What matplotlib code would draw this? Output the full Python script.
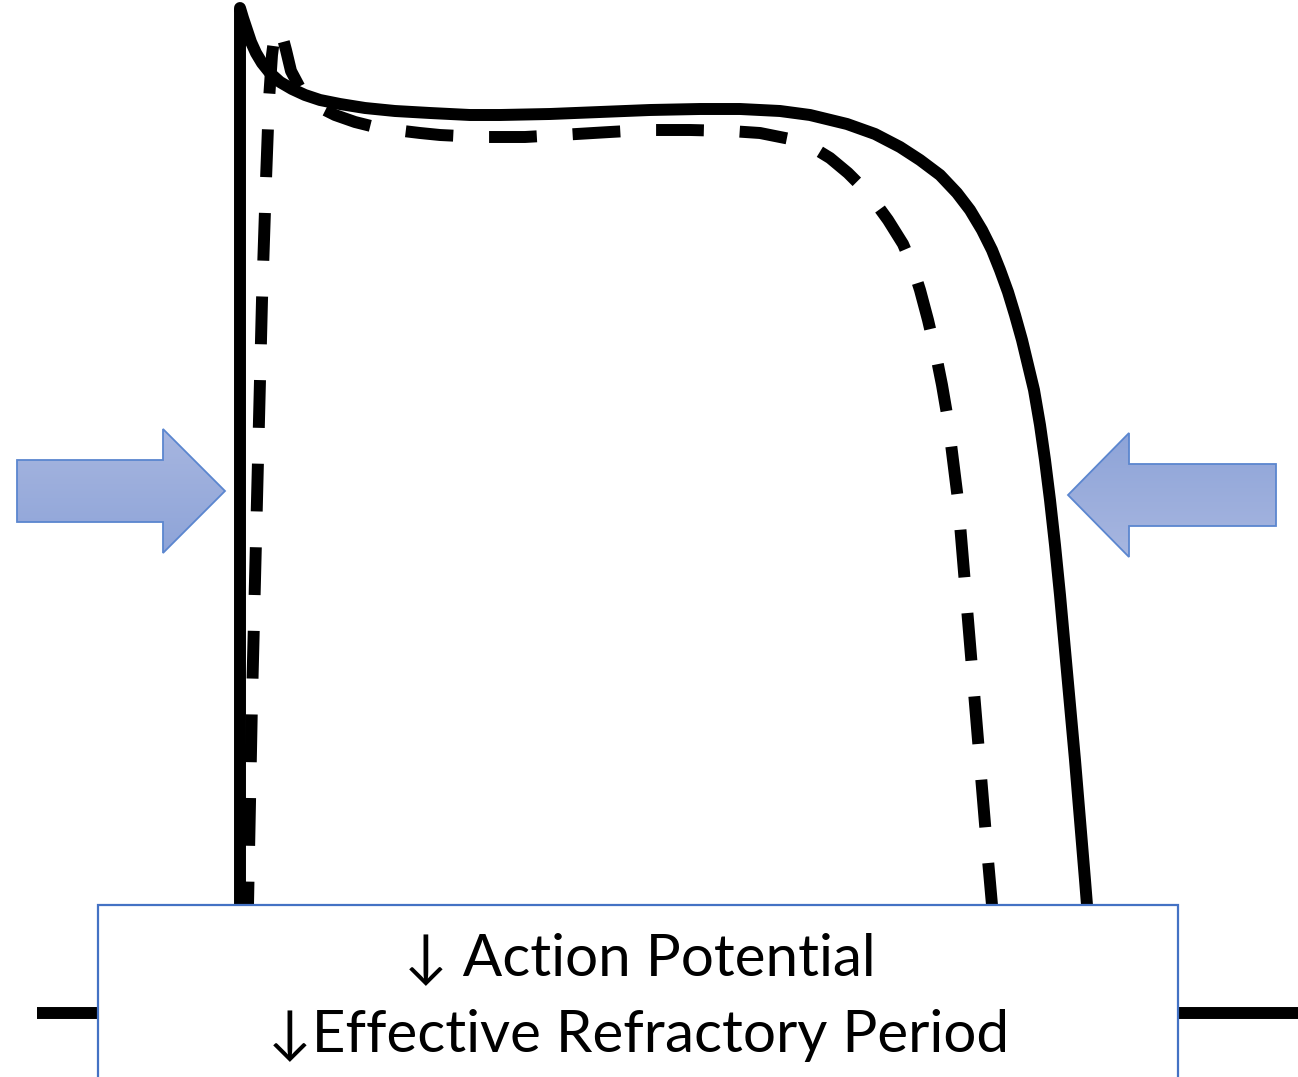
"""
Action potential shortening sketch: solid = baseline AP, dashed = shortened AP.
Outputs out.png
"""
import matplotlib
matplotlib.use("Agg")
import matplotlib.pyplot as plt
import numpy as np
from matplotlib.patches import Polygon, Rectangle

W, H = 1298, 1077

# traces (x = time, y = depth below the top edge)
solid_t = [37, 240, 240, 243, 247, 251, 256, 262, 270, 280, 292, 305, 320, 340,
           365, 395, 430, 470, 500, 550, 600, 650, 700, 740, 780, 810, 847, 875,
           900, 920, 940, 957, 970, 982, 992, 1000, 1008, 1015, 1022, 1028, 1034,
           1040, 1045, 1050, 1055, 1060, 1065, 1070, 1075, 1080, 1085, 1089, 1093,
           1095, 1298]
solid_v = [1013, 1013, 8, 18, 30, 42, 53, 63, 73, 82, 89, 95, 100, 104,
           108, 111, 113, 115, 115, 114, 112, 110, 109, 109, 111, 115, 124, 134,
           147, 160, 175, 193, 210, 230, 250, 270, 292, 315, 340, 365, 390,
           425, 460, 500, 545, 595, 650, 705, 760, 820, 880, 930, 980,
           1013, 1013]

dash_t = [247, 248, 252, 257, 262, 266, 269, 272, 275, 278, 282, 286, 291, 300, 315,
          335, 355, 375, 395, 420, 440, 480, 525, 560, 610, 645, 690, 730, 760,
          790, 812, 830, 848, 860, 872, 888, 903, 912, 920, 928, 935, 942, 948,
          953, 958, 963, 968, 973, 978, 983, 988, 992, 995]
dash_v = [1013, 905, 700, 500, 300, 180, 100, 55, 32, 27, 35, 50, 71, 88, 105,
          115, 122, 127, 130, 133, 135, 137, 137, 135, 132, 130, 130, 131, 133,
          139, 147, 158, 173, 185, 198, 220, 244, 265, 290, 320, 350, 385, 420,
          460, 500, 560, 620, 680, 740, 800, 860, 905, 1013]

labels = ["\u2193 Action Potential", "\u2193Effective Refractory Period"]

fig = plt.figure(figsize=(W / 100, H / 100), dpi=100)
ax = fig.add_axes([0, 0, 1, 1])
ax.set_xlim(0, W)
ax.set_ylim(H, 0)
ax.axis("off")

ax.plot(solid_t, solid_v, color="black", lw=8.6, solid_joinstyle="round",
        solid_capstyle="butt", zorder=2)
ax.plot(dash_t, dash_v, color="black", lw=8.6, dashes=(4.0, 3.0),
        dash_capstyle="butt", dash_joinstyle="round", zorder=2)


def block_arrow(tail, tip, shaft_half, head_half, head_len, cy, light_top):
    d = 1 if tip > tail else -1
    base = tip - d * head_len
    pts = [(tail, cy - shaft_half), (base, cy - shaft_half), (base, cy - head_half),
           (tip, cy), (base, cy + head_half), (base, cy + shaft_half),
           (tail, cy + shaft_half)]
    poly = Polygon(pts, closed=True, facecolor="none", edgecolor="#5B86CF",
                   lw=1.3, zorder=4)
    ax.add_patch(poly)
    top, bot = np.array([0.655, 0.714, 0.878]), np.array([0.557, 0.643, 0.847])
    if not light_top:
        top, bot = bot, top
    g = np.linspace(0, 1, 100)[:, None]
    img = (top[None, :] * (1 - g) + bot[None, :] * g)[:, None, :]
    im = ax.imshow(img, extent=(min(tail, tip), max(tail, tip), cy + head_half,
                                cy - head_half), origin="upper", aspect="auto",
                   zorder=3)
    im.set_clip_path(poly)


block_arrow(17, 225, 31, 62, 62, 491, True)
block_arrow(1276, 1068, 31, 62, 61, 495, False)

# label box
ax.add_patch(Rectangle((98, 905), 1080, 200, facecolor="white",
                       edgecolor="#4472C4", lw=1.6, zorder=5))
fam = ["Lato", "DejaVu Sans"]
ax.text(640, 975, labels[0], ha="center", va="baseline", fontsize=42,
        family=fam, zorder=6)
ax.text(639, 1052, labels[1], ha="center", va="baseline", fontsize=42,
        family=fam, zorder=6)

fig.savefig("out.png", dpi=100)
